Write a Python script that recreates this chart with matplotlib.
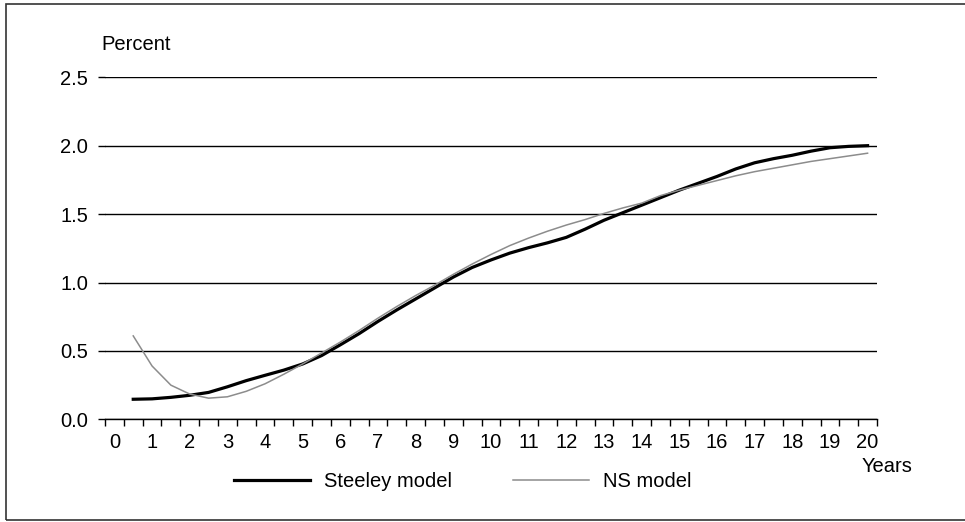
import numpy as np
import matplotlib
matplotlib.use("Agg")
import matplotlib.pyplot as plt
from matplotlib.patches import Rectangle

plt.rcParams['font.family'] = ['Liberation Sans', 'DejaVu Sans']
plt.rcParams['font.size'] = 14.5

# maturity in years, half-year steps
maturity = [0.5, 1.0, 1.5, 2.0, 2.5, 3.0, 3.5, 4.0, 4.5, 5.0,
            5.5, 6.0, 6.5, 7.0, 7.5, 8.0, 8.5, 9.0, 9.5, 10.0,
            10.5, 11.0, 11.5, 12.0, 12.5, 13.0, 13.5, 14.0, 14.5, 15.0,
            15.5, 16.0, 16.5, 17.0, 17.5, 18.0, 18.5, 19.0, 19.5, 20.0]

# fitted curves, percent
steeley = [0.147, 0.150, 0.161, 0.176, 0.197, 0.238, 0.283, 0.322, 0.360, 0.405,
           0.466, 0.545, 0.627, 0.716, 0.800, 0.880, 0.960, 1.040, 1.110, 1.165,
           1.215, 1.255, 1.290, 1.330, 1.390, 1.455, 1.510, 1.565, 1.620, 1.675,
           1.725, 1.775, 1.830, 1.875, 1.905, 1.930, 1.960, 1.985, 1.995, 2.000]
ns = [0.610, 0.390, 0.250, 0.185, 0.155, 0.165, 0.205, 0.260, 0.330, 0.405,
      0.485, 0.565, 0.650, 0.740, 0.825, 0.905, 0.980, 1.060, 1.135, 1.205,
      1.270, 1.325, 1.375, 1.420, 1.460, 1.505, 1.545, 1.580, 1.635, 1.675,
      1.710, 1.745, 1.780, 1.810, 1.835, 1.860, 1.885, 1.905, 1.925, 1.945]

year_labels = [str(i) for i in range(21)]
y_ticks = [0.0, 0.5, 1.0, 1.5, 2.0, 2.5]

fig = plt.figure(figsize=(9.65, 5.22), dpi=100)
ax = fig.add_axes([0.1088, 0.1966, 0.8, 0.6554])

ax.plot(maturity, steeley, color='black', lw=2.3, label='Steeley model', zorder=3)
ax.plot(maturity, ns, color='#8c8c8c', lw=1.1, label='NS model', zorder=4)

ax.set_xlim(-0.25, 20.25)
ax.set_ylim(0, 2.5)

# y axis: black gridlines, no spine
ax.set_yticks(y_ticks)
ax.set_yticklabels(['%.1f' % v for v in y_ticks])
ax.yaxis.grid(True, color='black', lw=1.0)
ax.tick_params(axis='y', length=5, width=1.0, pad=7, color='black')
for s in ['left', 'right', 'top']:
    ax.spines[s].set_visible(False)
ax.spines['bottom'].set_linewidth(1.0)

# x axis: ticks between categories, labels centred on each year
ax.set_xticks(np.arange(-0.25, 20.3, 0.5))
ax.set_xticklabels([])
ax.set_xticks(range(21), minor=True)
ax.set_xticklabels(year_labels, minor=True)
ax.tick_params(axis='x', which='major', length=5, width=1.0, direction='out')
ax.tick_params(axis='x', which='minor', length=0, pad=10)

fig.text(101 / 965, 1 - 44 / 522, 'Percent', ha='left', va='center')
fig.text(862 / 965, 1 - 467 / 522, 'Years', ha='left', va='center')

ax.legend(loc='center', bbox_to_anchor=(0.4797, 0.078), bbox_transform=fig.transFigure,
          ncol=2, frameon=False, handlelength=3.8, handletextpad=0.7,
          columnspacing=3.0, borderpad=0)

# outer frame (right edge falls outside the canvas)
fig.add_artist(Rectangle((6 / 965, 2 / 522), 1.2, 1 - 6 / 522, transform=fig.transFigure,
                         fill=False, edgecolor='#333333', lw=1.2))

fig.savefig('out.png', dpi=100)
